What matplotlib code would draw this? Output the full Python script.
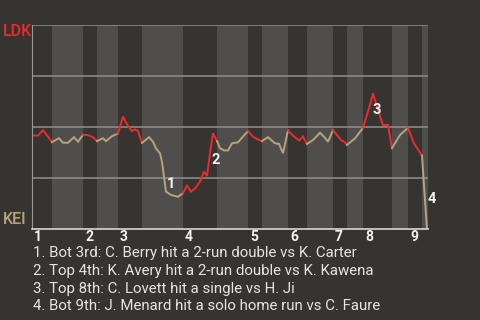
import matplotlib

matplotlib.use("Agg")
import matplotlib.pyplot as plt
import numpy as np

# game progress (0-396) at half-inning boundaries
half_edges = [0, 20, 51, 65, 86, 110, 151, 185, 216, 230,
              256, 275, 301, 315, 331, 360, 376, 390, 396]
innings = ["1", "2", "3", "4", "5", "6", "7", "8", "9"]

# win probability for LDK, one list per half-inning (first point shared with previous)
progress = [
    [0, 6, 11, 16, 20],
    [27, 31, 36, 42, 46, 51],
    [56, 61, 65],
    [71, 74, 80, 85, 86],
    [91, 96, 100, 103, 106, 110],
    [117, 121, 124, 128, 130, 132, 134, 139, 146, 151],
    [155, 159, 163, 168, 172, 175, 178, 181, 185],
    [188, 192, 196, 200, 206, 211, 216],
    [221, 225, 230],
    [236, 243, 247, 251, 256],
    [261, 267, 271, 275],
    [281, 288, 293, 296, 301],
    [309, 313, 315],
    [323, 327, 331],
    [338, 341, 346, 351, 356, 360],
    [368, 376],
    [382, 390],
    [391, 392, 393, 395],
]
win_prob = [
    [0.458, 0.458, 0.484, 0.453, 0.426],
    [0.445, 0.423, 0.423, 0.450, 0.428, 0.462],
    [0.460, 0.450, 0.431],
    [0.445, 0.431, 0.455, 0.466, 0.468],
    [0.551, 0.505, 0.480, 0.488, 0.480, 0.422],
    [0.450, 0.428, 0.395, 0.371, 0.329, 0.256, 0.183, 0.167, 0.158, 0.176],
    [0.212, 0.183, 0.199, 0.232, 0.281, 0.260, 0.371, 0.469, 0.431],
    [0.396, 0.385, 0.385, 0.420, 0.425, 0.453, 0.480],
    [0.453, 0.441, 0.431],
    [0.450, 0.420, 0.417, 0.372, 0.483],
    [0.458, 0.434, 0.453, 0.417],
    [0.436, 0.472, 0.447, 0.428, 0.485],
    [0.436, 0.425, 0.412],
    [0.444, 0.470, 0.496],
    [0.608, 0.665, 0.583, 0.510, 0.510, 0.396],
    [0.461, 0.496],
    [0.420, 0.360],
    [0.289, 0.211, 0.142, 0.0],
]

# key plays: progress, win probability, label
event_x = [139.5, 183.5, 344.5, 399.5]
event_p = [0.223, 0.336, 0.583, 0.145]
event_labels = ["1", "2", "3", "4"]
event_text = [
    "1. Bot 3rd: C. Berry hit a 2-run double vs K. Carter",
    "2. Top 4th: K. Avery hit a 2-run double vs K. Kawena",
    "3. Top 8th: C. Lovett hit a single vs H. Ji",
    "4. Bot 9th: J. Menard hit a solo home run vs C. Faure",
]

away_team = "LDK"
home_team = "KEI"

bg = "#363430"
band_light = "#4f4e4c"
red = "#ee2a2e"
tan = "#b8a47a"

plt.rcParams["font.family"] = ["Roboto", "DejaVu Sans"]

fig = plt.figure(figsize=(4.8, 3.2), dpi=100, facecolor=bg)
ax = fig.add_axes([32 / 480, 91 / 320, 396 / 480, 204 / 320])
ax.set_facecolor(bg)

for i in range(len(half_edges) - 1):
    if i % 2 == 1:
        ax.axvspan(half_edges[i], half_edges[i + 1], color=band_light, lw=0)

for level in [0.25, 0.5, 0.75, 1.0]:
    ax.axhline(level, color="#8a8986", lw=1.2)

prev_x, prev_p = None, None
for i in range(len(progress)):
    xs = list(progress[i])
    ps = list(win_prob[i])
    if prev_x is not None:
        xs = [prev_x] + xs
        ps = [prev_p] + ps
    color = red if i % 2 == 0 else tan
    ax.plot(xs, ps, color=color, lw=1.4, solid_joinstyle="miter")
    prev_x, prev_p = xs[-1], ps[-1]

for ex, ep, lab in zip(event_x, event_p, event_labels):
    ax.text(ex, ep, lab, color="#f2f2f2", fontsize=10.5, fontweight="bold",
            ha="center", va="center")

ax.set_xlim(0, half_edges[-1])
ax.set_ylim(0, 1)
ax.set_xticks([])
ax.set_yticks([])
for side in ["right", "top"]:
    ax.spines[side].set_visible(False)
ax.spines["left"].set_color("#9a9996")
ax.spines["bottom"].set_color("#d8d8d8")
ax.spines["bottom"].set_linewidth(1.2)

for k, name in enumerate(innings):
    ax.text(half_edges[2 * k] + 2, -0.04, name, color="#f2f2f2",
            fontsize=10, fontweight="bold", ha="left", va="center")

fig.text(3 / 480, 1 - 31 / 320, away_team, color=red, fontsize=11.5,
         fontweight="medium", ha="left", va="center")
fig.text(3 / 480, 1 - 220 / 320, home_team, color=tan, fontsize=11.5,
         fontweight="medium", ha="left", va="center")

for j, line in enumerate(event_text):
    fig.text(33 / 480, 1 - (253 + j * 17.8) / 320, line, color="#e4e4e4",
             fontsize=10.8, ha="left", va="center")

fig.savefig("out.png", dpi=100, facecolor=bg)
